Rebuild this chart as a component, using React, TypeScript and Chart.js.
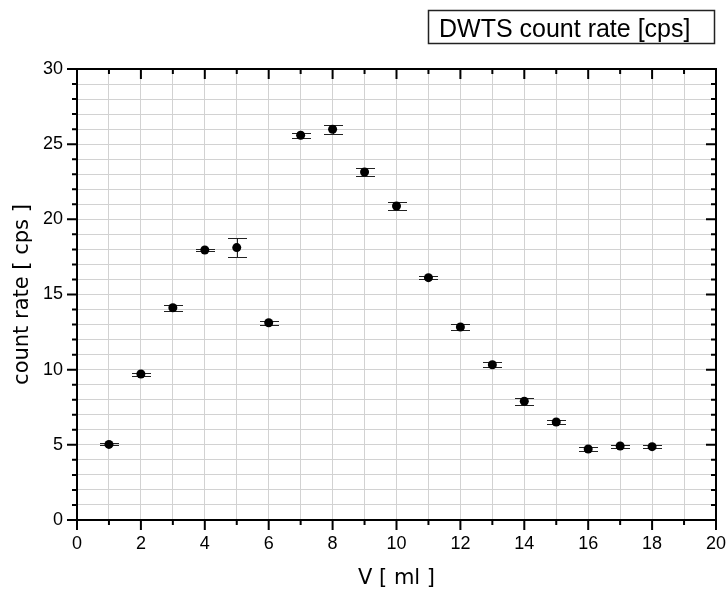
import React, { useEffect, useRef } from 'react';
import { Chart, registerables } from 'chart.js';

Chart.register(...registerables);

// ---- data ----
const volumes = [1, 2, 3, 4, 5, 6, 7, 8, 9, 10, 11, 12, 13, 14, 15, 16, 17, 18];
const countRates = [5.03, 9.71, 14.12, 17.96, 18.12, 13.12, 25.59, 25.99, 23.15, 20.89, 16.12, 12.84, 10.33, 7.9, 6.52, 4.72, 4.92, 4.88];
const countErrors = [0.06, 0.1, 0.2, 0.08, 0.62, 0.15, 0.17, 0.29, 0.25, 0.24, 0.08, 0.2, 0.18, 0.22, 0.15, 0.12, 0.1, 0.1];
const xLabelTicks = [0, 2, 4, 6, 8, 10, 12, 14, 16, 18, 20];
const yLabelTicks = [0, 5, 10, 15, 20, 25, 30];
const legendText = 'DWTS count rate [cps]';
const xTitle = 'V [ ml ]';
const yTitle = 'count rate [ cps ]';

const TICK_FONT = { family: '"Liberation Sans", Arial, sans-serif', size: 18 };
const TITLE_FONT = { family: '"DejaVu Sans", Verdana, sans-serif', size: 21 };

const errorBarPlugin = {
  id: 'errorBars',
  beforeDatasetsDraw(chart: any) {
    const { ctx, scales } = chart;
    const x = scales.x;
    const y = scales.y;
    ctx.save();
    ctx.strokeStyle = '#222';
    ctx.lineWidth = 1;
    volumes.forEach((v, i) => {
      const px = Math.round(x.getPixelForValue(v)) + 0.5;
      const top = Math.round(y.getPixelForValue(countRates[i] + countErrors[i])) + 0.5;
      const bot = Math.round(y.getPixelForValue(countRates[i] - countErrors[i])) + 0.5;
      ctx.beginPath();
      ctx.moveTo(px, top);
      ctx.lineTo(px, bot);
      ctx.moveTo(px - 9.5, top);
      ctx.lineTo(px + 9.5, top);
      ctx.moveTo(px - 9.5, bot);
      ctx.lineTo(px + 9.5, bot);
      ctx.stroke();
    });
    ctx.restore();
  },
};

const framePlugin = {
  id: 'frame',
  beforeDatasetsDraw(chart: any) {
    const { ctx, chartArea: a, scales } = chart;
    const x = scales.x;
    const y = scales.y;
    ctx.save();
    ctx.strokeStyle = '#000';
    ctx.lineWidth = 2;
    ctx.beginPath();
    x.ticks.forEach((t: any) => {
      const px = x.getPixelForValue(t.value);
      const len = xLabelTicks.includes(t.value) ? 10 : 5;
      ctx.moveTo(px, a.bottom);
      ctx.lineTo(px, a.bottom + len);
      ctx.moveTo(px, a.top);
      ctx.lineTo(px, a.top + len);
    });
    y.ticks.forEach((t: any) => {
      const py = y.getPixelForValue(t.value);
      const len = yLabelTicks.includes(t.value) ? 10 : 5;
      ctx.moveTo(a.left - len, py);
      ctx.lineTo(a.left, py);
      ctx.moveTo(a.right - len, py);
      ctx.lineTo(a.right, py);
    });
    ctx.stroke();
    ctx.strokeRect(a.left, a.top, a.right - a.left, a.bottom - a.top);
    ctx.restore();
  },
};

const legendPlugin = {
  id: 'boxLegend',
  afterDraw(chart: any) {
    const { ctx } = chart;
    ctx.save();
    ctx.strokeStyle = '#222';
    ctx.lineWidth = 1.5;
    ctx.strokeRect(428.5, 10.5, 286, 33);
    ctx.fillStyle = '#000';
    ctx.font = '25px "Liberation Sans", Arial, sans-serif';
    ctx.textBaseline = 'alphabetic';
    ctx.textAlign = 'left';
    ctx.fillText(legendText, 439, 36.5);
    ctx.restore();
  },
};

export default function App() {
  const ref = useRef<HTMLCanvasElement>(null);

  useEffect(() => {
    if (!ref.current) return;
    const chart = new Chart(ref.current, {
      type: 'scatter',
      data: {
        datasets: [
          {
            label: legendText,
            data: volumes.map((v, i) => ({ x: v, y: countRates[i] })),
            backgroundColor: '#000',
            borderColor: '#000',
            pointRadius: 4.5,
            pointHoverRadius: 4.5,
            borderWidth: 0,
          },
        ],
      },
      options: {
        responsive: false,
        maintainAspectRatio: false,
        animation: false,
        devicePixelRatio: 1,
        layout: { padding: { top: 69, right: 12, left: 0, bottom: 0 } },
        plugins: {
          legend: { display: false },
          tooltip: { enabled: false },
        },
        scales: {
          x: {
            type: 'linear',
            min: 0,
            max: 20,
            grid: { color: '#d2d2d2', lineWidth: 1, drawTicks: false },
            border: { display: false },
            ticks: {
              stepSize: 1,
              autoSkip: false,
              maxRotation: 0,
              padding: 13,
              color: '#000',
              font: TICK_FONT,
              callback: (v: any) => (xLabelTicks.includes(v) ? String(v) : ''),
            },
            title: {
              display: true,
              text: xTitle,
              color: '#000',
              font: TITLE_FONT,
              padding: { top: 0, bottom: 2 },
            },
            afterFit: (s: any) => {
              s.height = 73;
              s.paddingLeft = 0;
              s.paddingRight = 0;
            },
          },
          y: {
            type: 'linear',
            min: 0,
            max: 30,
            grid: { color: '#d2d2d2', lineWidth: 1, drawTicks: false },
            border: { display: false },
            ticks: {
              stepSize: 1,
              autoSkip: false,
              padding: 14,
              color: '#000',
              font: TICK_FONT,
              callback: (v: any) => (yLabelTicks.includes(v) ? String(v) : ''),
            },
            title: {
              display: true,
              text: yTitle,
              color: '#000',
              font: TITLE_FONT,
              padding: { top: 10, bottom: 0 },
            },
            afterFit: (s: any) => {
              s.width = 77;
              s.paddingTop = 0;
              s.paddingBottom = 0;
            },
          },
        },
      },
      plugins: [errorBarPlugin, framePlugin, legendPlugin],
    });
    return () => chart.destroy();
  }, []);

  return (
    <div style={{ position: 'absolute', left: 0, top: 0, width: 728, height: 593, background: '#fff' }}>
      <canvas ref={ref} width={728} height={593} style={{ display: 'block', width: 728, height: 593 }} />
    </div>
  );
}
